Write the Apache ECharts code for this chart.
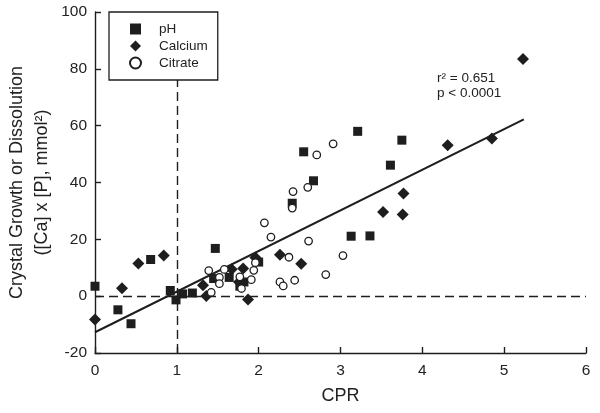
<!DOCTYPE html>
<html>
<head>
<meta charset="utf-8">
<script src="https://cdn.jsdelivr.net/npm/echarts@6/dist/echarts.min.js"></script>
<style>html,body{margin:0;padding:0;background:#fff}#c{width:600px;height:413px}</style>
</head>
<body>
<div id="c"></div>
<script>
// ---- data ----
const phPoints = [
  [0, 3.5], [0.28, -4.8], [0.44, -9.7], [0.68, 12.9], [0.92, 2.0], [0.99, -1.3],
  [1.07, 0.8], [1.19, 1.1], [1.45, 6.2], [1.47, 16.8], [1.64, 6.6], [1.77, 3.5],
  [1.82, 5.0], [2.0, 12.0], [2.41, 32.7], [2.55, 50.8], [2.67, 40.6], [3.13, 21.1],
  [3.21, 58.0], [3.36, 21.2], [3.61, 46.1], [3.75, 54.9]
];
const calciumPoints = [
  [0, -8.2], [0.33, 2.8], [0.53, 11.5], [0.84, 14.3], [1.32, 3.8], [1.36, 0.1],
  [1.67, 9.5], [1.76, 5.0], [1.81, 9.7], [1.87, -1.2], [1.96, 13.6], [2.26, 14.6],
  [2.52, 11.4], [3.52, 29.6], [3.76, 28.7], [3.77, 36.1], [4.31, 53.1], [4.85, 55.5],
  [5.23, 83.5]
];
const citratePoints = [
  [1.39, 9.0], [1.42, 1.3], [1.52, 6.6], [1.52, 4.4], [1.58, 9.4], [1.77, 6.8],
  [1.79, 2.7], [1.91, 5.8], [1.94, 9.1], [1.96, 11.8], [2.07, 25.8], [2.15, 20.8],
  [2.26, 5.0], [2.30, 3.6], [2.37, 13.7], [2.41, 31.0], [2.42, 36.8], [2.44, 5.6],
  [2.60, 38.3], [2.61, 19.4], [2.71, 49.7], [2.82, 7.6], [2.91, 53.6], [3.03, 14.3]
];
const fitX = [0, 5.24];
const fitY = [-12.7, 62.2];
const seriesNames = ['pH', 'Calcium', 'Citrate'];
const xTicks = [0, 1, 2, 3, 4, 5, 6];
const yTicks = [-20, 0, 20, 40, 60, 80, 100];
const refX = 1;
const refY = 0;
const statLines = ['r\u00B2 = 0.651', 'p < 0.0001'];

// ---- chart ----
const FONT = '"Liberation Sans", Arial, sans-serif';
const INK = '#1e1e1e';
const chart = echarts.init(document.getElementById('c'), null, {renderer: 'canvas'});
const fitData = fitX.map((x, i) => [x, fitY[i]]);

const axisCommon = {
  axisLine: {show: true, onZero: false, lineStyle: {color: INK, width: 1.4}},
  axisTick: {show: true, inside: true, length: 6, lineStyle: {color: INK, width: 1.4}},
  splitLine: {show: false},
  nameMoveOverlap: false,
  nameTextStyle: {fontFamily: FONT, fontSize: 18, color: '#222'}
};

chart.setOption({
  animation: false,
  backgroundColor: '#fff',
  grid: {left: 95, right: 14, top: 12, bottom: 60, containLabel: false, outerBoundsMode: 'none'},
  xAxis: Object.assign({}, axisCommon, {
    type: 'value', min: xTicks[0], max: xTicks[xTicks.length - 1], interval: 1,
    name: 'CPR', nameLocation: 'middle', nameGap: 34,
    axisLabel: {fontFamily: FONT, fontSize: 15.5, color: '#222', margin: 10}
  }),
  yAxis: Object.assign({}, axisCommon, {
    type: 'value', min: yTicks[0], max: yTicks[yTicks.length - 1], interval: 20,
    name: 'Crystal Growth or Dissolution\n([Ca] x [P], mmol\u00B2)',
    nameLocation: 'middle', nameGap: 40, nameRotate: 90,
    nameTextStyle: {fontFamily: FONT, fontSize: 18, color: '#222', lineHeight: 25, align: 'center'},
    axisLabel: {fontFamily: FONT, fontSize: 15.5, color: '#222', margin: 8}
  }),
  legend: {
    orient: 'vertical', left: 109, top: 12,
    data: seriesNames,
    backgroundColor: '#fff', borderColor: INK, borderWidth: 1.3, borderRadius: 0,
    padding: [10, 10, 10, 20],
    itemWidth: 11, itemHeight: 11, itemGap: 3,
    textStyle: {fontFamily: FONT, fontSize: 13.5, color: '#222', lineHeight: 14, padding: [0, 0, 0, 13]},
    z: 10
  },
  series: [
    {
      type: 'line', data: fitData, symbol: 'none', silent: true, z: 1,
      lineStyle: {color: INK, width: 2},
      markLine: {
        silent: true, symbol: ['none', 'none'], label: {show: false},
        lineStyle: {color: INK, width: 1.4, type: [9, 5]},
        data: [{xAxis: refX}, {yAxis: refY}]
      }
    },
    {
      name: seriesNames[0], type: 'scatter', data: phPoints, symbol: 'rect', symbolSize: 9, z: 3,
      itemStyle: {color: INK, opacity: 1}
    },
    {
      name: seriesNames[1], type: 'scatter', data: calciumPoints, symbol: 'diamond', symbolSize: 12, z: 3,
      itemStyle: {color: INK, opacity: 1}
    },
    {
      name: seriesNames[2], type: 'scatter', data: citratePoints, symbol: 'circle', symbolSize: 7.5, z: 4,
      itemStyle: {color: '#fff', borderColor: INK, borderWidth: 1.3, opacity: 1}
    }
  ],
  graphic: [
    {type: 'text', x: 437, y: 78, style: {text: statLines[0], font: '13.5px ' + FONT, fill: '#222', verticalAlign: 'middle'}},
    {type: 'text', x: 437, y: 93.5, style: {text: statLines[1], font: '13.5px ' + FONT, fill: '#222', verticalAlign: 'middle'}}
  ]
});
</script>
</body>
</html>
